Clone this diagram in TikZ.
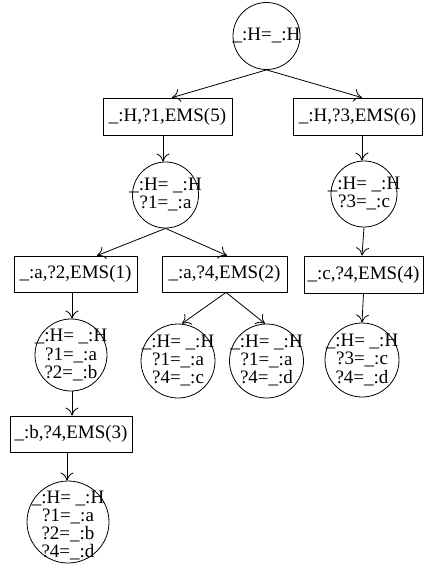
\documentclass[tikz,border=0pt]{standalone}
\usepackage{fontspec}
\setmainfont{Liberation Serif}
\usetikzlibrary{arrows.meta,calc}
\begin{document}
\begin{tikzpicture}[x=1pt,y=-1pt,
  every node/.style={font=\fontsize{19}{18}\selectfont},
  st/.style={circle,draw,line width=0.8pt,inner sep=0pt},
  lbl/.style={align=center,inner sep=0pt},
  bx/.style={rectangle,draw,line width=0.8pt,inner sep=0pt,minimum height=36pt},
  arr/.style={line width=0.8pt,-{Computer Modern Rightarrow[length=8pt,width=13pt]}}]
\useasboundingbox (0,0) rectangle (425,567);
% states
\node[st,minimum size=67pt] (root) at (266.5,36) {};
\node[lbl] (rootT) at (root) {\_:H=\_:H};
\node[st,minimum size=66pt] (c1) at (165.5,195) {};
\node[lbl] (c1T) at (c1) {\_:H= \_:H\\?1=\_:a};
\node[st,minimum size=66pt] (c3) at (364,194) {};
\node[lbl] (c3T) at (c3) {\_:H= \_:H\\?3=\_:c};
\node[st,minimum size=72pt] (c12) at (71,355) {};
\node[lbl] (c12T) at (c12) {\_:H= \_:H\\?1=\_:a\\?2=\_:b};
\node[st,minimum size=74pt] (ca) at (178,361) {};
\node[lbl] (caT) at (ca) {\_:H= \_:H\\?1=\_:a\\?4=\_:c};
\node[st,minimum size=74pt] (cb) at (266.5,361) {};
\node[lbl] (cbT) at (cb) {\_:H= \_:H\\?1=\_:a\\?4=\_:d};
\node[st,minimum size=74pt] (cc) at (362,360) {};
\node[lbl] (ccT) at (cc) {\_:H= \_:H\\?3=\_:c\\?4=\_:d};
\node[st,minimum size=82pt] (cd) at (68,522) {};
\node[lbl] (cdT) at ($(cd)+(0,3)$) {\_:H= \_:H\\?1=\_:a\\?2=\_:b\\?4=\_:d};
% boxes
\node[bx,minimum width=129pt,minimum height=37pt] (b5) at (167.5,116.5) {\_:H,?1,EMS(5)};
\node[bx,minimum width=129pt,minimum height=37pt] (b6) at (357.5,116.5) {\_:H,?3,EMS(6)};
\node[bx,minimum width=123pt] (b1) at (75.5,274) {\_:a,?2,EMS(1)};
\node[bx,minimum width=125pt] (b2) at (224.5,274) {\_:a,?4,EMS(2)};
\node[bx,minimum width=119pt,minimum height=37pt] (b4) at (363.5,274.5) {\_:c,?4,EMS(4)};
\node[bx,minimum width=122pt] (b3) at (71,434) {\_:b,?4,EMS(3)};
% edges
\draw[arr] (root.south) -- ($(b5.north)+(4.5,0)$);
\draw[arr] (root.south) -- ($(b6.north)+(4.5,0)$);
\draw[arr] ($(b5.south)+(-4.5,0)$) -- ($(c1.north)+(-2.5,0)$);
\draw[arr] ($(b6.south)+(4.5,0)$) -- ($(c3.north)+(-2,0)$);
\draw[arr] (c1.south) -- ($(b1.north)+(21.5,0)$);
\draw[arr] (c1.south) -- ($(b2.north)+(2.5,0)$);
\draw[arr] (c3.south) -- ($(b4.north)+(-1.5,0)$);
\draw[arr] ($(b1.south)+(-3.5,0)$) -- ($(c12.north)+(1,0)$);
\draw[arr] ($(b2.south)+(1.5,0)$) -- ($(ca.north)+(4,0)$);
\draw[arr] ($(b2.south)+(1.5,0)$) -- ($(cb.north)+(-1.5,0)$);
\draw[arr] (b4.south) -- ($(cc.north)+(0,0)$);
\draw[arr] ($(c12.south)+(1,0)$) -- ($(b3.north)+(1,0)$);
\draw[arr] ($(b3.south)+(-4,0)$) -- ($(cd.north)+(-1,0)$);
\end{tikzpicture}
\end{document}
